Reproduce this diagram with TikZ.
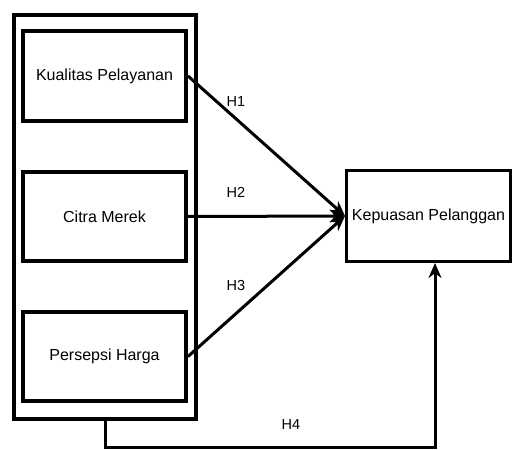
\documentclass[tikz,border=0pt]{standalone}
\usepackage{fontspec}
\setmainfont{Liberation Sans}
\usepackage{tikz}
\usetikzlibrary{arrows.meta,shapes,positioning}
\tikzstyle{varbox} = [rectangle, minimum width=163pt, minimum height=90pt, text centered, draw=black, line width=4pt, font=\fontsize{16}{19}\selectfont]
\tikzstyle{groupbox} = [rectangle, minimum width=182pt, minimum height=404pt, draw=black, line width=4pt]
\tikzstyle{arrow} = [line width=3pt,-{Stealth[length=15pt,width=13pt]},color=black]
\tikzstyle{hlabel} = [font=\fontsize{14.5}{17}\selectfont]

\begin{document}
\begin{tikzpicture}[x=1pt,y=-1pt]
\useasboundingbox (0,0) rectangle (515,450);
\node (grup) [groupbox] at (105,217) {};
\node (kualitas) [varbox] at (104.5,76) {Kualitas Pelayanan};
\node (citra) [varbox, minimum height=89pt] at (104.5,216.5) {Citra Merek};
\node (persepsi) [varbox, minimum height=89pt] at (104.5,356.5) {Persepsi Harga};
\node (kepuasan) [varbox, line width=3pt, minimum width=164pt, minimum height=91pt] at (428.5,216) {Kepuasan Pelanggan};
\coordinate (belok) at (435,447);
\draw [arrow] (kualitas.east) -- (kepuasan.west);
\draw [arrow] (citra.east) -- (kepuasan.west);
\draw [arrow] (persepsi.east) -- (kepuasan.west);
\draw [arrow] (grup.south) |- (belok) -- (kepuasan.south -| belok);
\node (h1) [hlabel] at (236,102) {H1};
\node (h2) [hlabel] at (236,192) {H2};
\node (h3) [hlabel] at (236,286) {H3};
\node (h4) [hlabel] at (291,425) {H4};
\end{tikzpicture}
\end{document}
